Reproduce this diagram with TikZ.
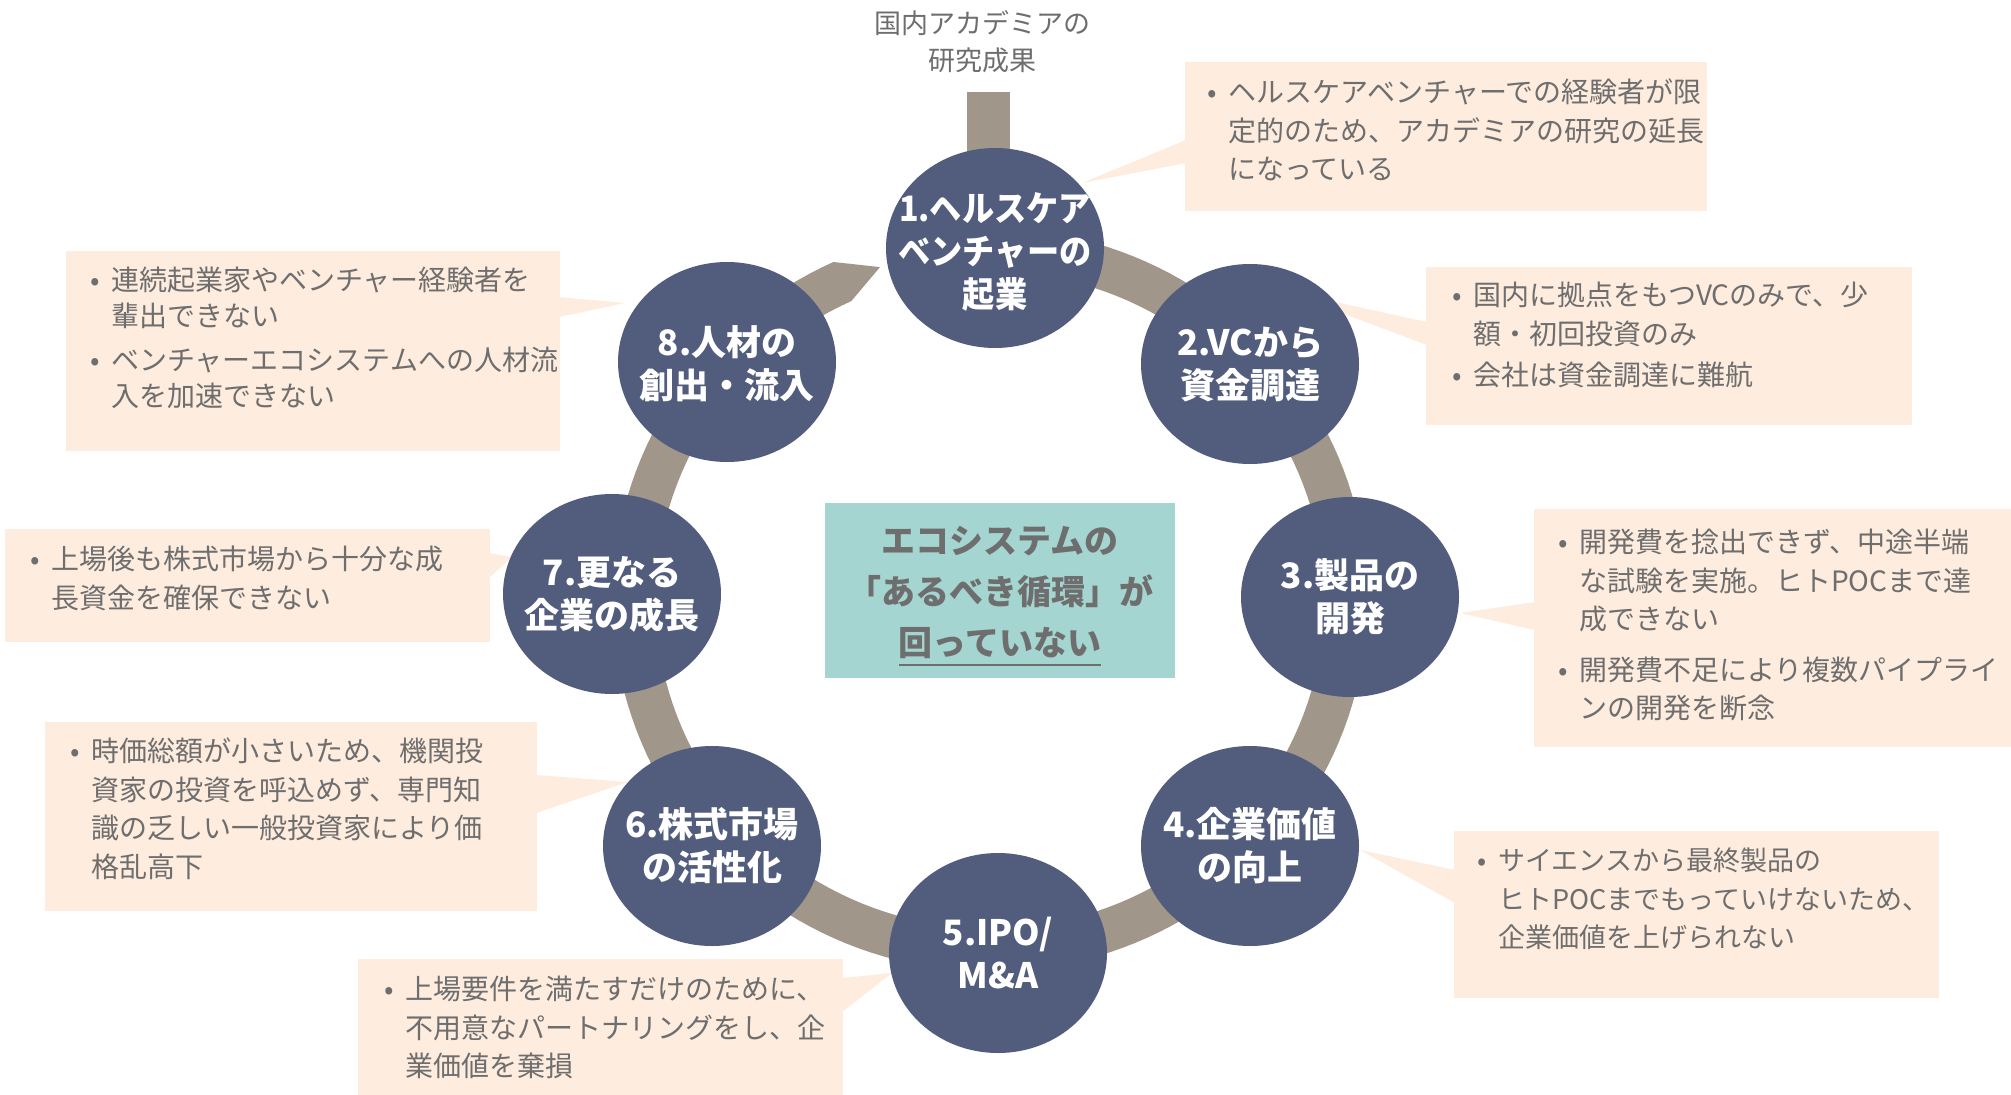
\documentclass[tikz,border=0pt]{standalone}
\usepackage{fontspec}
\setmainfont{Noto Sans CJK JP}
\newfontfamily\condfont[FakeStretch=0.92]{Noto Sans CJK JP}
\definecolor{ringc}{HTML}{A09689}
\definecolor{circc}{HTML}{525D7E}
\definecolor{callc}{HTML}{FEECDE}
\definecolor{boxc}{HTML}{A4D5D0}
\definecolor{textg}{HTML}{6E6E6E}
\newcommand\cbul{\makebox[21pt][l]{•}}
\newcommand\cind{\hspace*{21pt}}
\newcommand\myul[1]{\setbox0\hbox{#1}\rlap{\rule[-11pt]{\wd0}{2.5pt}}\box0}
\tikzset{
  callbox/.style={fill=callc, inner sep=0pt, anchor=north west},
  ptr/.style={fill=callc},
  ctext/.style={anchor=north west, inner sep=0pt, align=left, text=textg, font=\fontsize{28}{38.5}\selectfont},
  circtext/.style={inner sep=0pt, align=center, text=white, font=\bfseries\fontsize{35}{43}\selectfont},
  ringfill/.style={fill=ringc},
  blob/.style={fill=circc}
}
\begin{document}
\begin{tikzpicture}[x=1pt,y=-1pt]
\useasboundingbox (0,0) rectangle (2011,1095);
\fill[white] (0,0) rectangle (2011,1095);

% callout boxes
\node[callbox, minimum width=522, minimum height=149] (b1) at (1185,62) {};
\node[callbox, minimum width=486, minimum height=158] (b2) at (1426,267) {};
\node[callbox, minimum width=477, minimum height=238] (b3) at (1534,509) {};
\node[callbox, minimum width=485, minimum height=167] (b4) at (1454,831) {};
\node[callbox, minimum width=485, minimum height=136] (b5) at (358,959) {};
\node[callbox, minimum width=492, minimum height=189] (b6) at (45,722) {};
\node[callbox, minimum width=485, minimum height=113] (b7) at (5,529) {};
\node[callbox, minimum width=494, minimum height=200] (b8) at (66,251) {};

% pointers
\fill[ptr] (1186,140) -- (1082,183) -- (1186,163) -- cycle;
\fill[ptr] (1427,322) -- (1280,290) -- (1427,345) -- cycle;
\fill[ptr] (1535,602) -- (1460,613) -- (1535,630) -- cycle;
\fill[ptr] (1455,870) -- (1360,850) -- (1455,903) -- cycle;
\fill[ptr] (842,978) -- (892,973) -- (842,1012) -- cycle;
\fill[ptr] (536,775) -- (628,782) -- (536,813) -- cycle;
\fill[ptr] (489,553) -- (512,557) -- (489,578) -- cycle;
\fill[ptr] (559,297) -- (625,303) -- (559,317) -- cycle;

% ring with arrow end
\fill[ringfill] plot[domain=280:605.5, samples=160] ({990+377.5*cos(\x)},{600+371.5*sin(\x)})
  -- ({990+356*cos(612)},{600+350*sin(612)})
  -- plot[domain=605.5:280, samples=160] ({990+334.5*cos(\x)},{600+328.5*sin(\x)}) -- cycle;
% input stub
\fill[ringfill] (967,92) rectangle (1010,200);

% circles
\fill[blob] (995,248) ellipse [x radius=109, y radius=100];
\fill[blob] (1250,364) ellipse [x radius=109, y radius=100];
\fill[blob] (1350,597) ellipse [x radius=109, y radius=100];
\fill[blob] (1250,846) ellipse [x radius=109, y radius=100];
\fill[blob] (998,953) ellipse [x radius=109, y radius=100];
\fill[blob] (712,846) ellipse [x radius=109, y radius=100];
\fill[blob] (612,594) ellipse [x radius=109, y radius=100];
\fill[blob] (727,362) ellipse [x radius=109, y radius=100];

\node[circtext, font=\condfont\bfseries\fontsize{35}{43}\selectfont] (c1) at (995,252) {1.ヘルスケア\\ベンチャーの\\起業};
\node[circtext] (c2) at (1250,364) {2.VCから\\資金調達};
\node[circtext] (c3) at (1350,597) {3.製品の\\開発};
\node[circtext] (c4) at (1250,846) {4.企業価値\\の向上};
\node[circtext] (c5) at (998,953) {5.IPO/\\M\&A};
\node[circtext] (c6) at (712,846) {6.株式市場\\の活性化};
\node[circtext] (c7) at (612,594) {7.更なる\\企業の成長};
\node[circtext] (c8) at (727,364) {8.人材の\\創出・流入};

% centre box
\node[fill=boxc, minimum width=350, minimum height=175, inner sep=0pt] (ctr) at (1000,590) {};
\node[inner sep=0pt, align=center, text=textg, font=\bfseries\fontsize{34}{51}\selectfont] (ctrtext) at (1000,596)
  {エコシステムの\\「あるべき循環」が\\\myul{回っていない}};

% top label
\node[inner sep=0pt, align=center, text=textg, font=\fontsize{27}{37}\selectfont] (src) at (982,42)
  {国内アカデミアの\\研究成果};

% callout texts
\node[ctext] (t1) at (1207,79) {\cbul ヘルスケアベンチャーでの経験者が限\\\cind 定的のため、アカデミアの研究の延長\\\cind になっている};
\node[ctext] (t2) at (1452,282) {\cbul 国内に拠点をもつVCのみで、少\\\cind 額・初回投資のみ\\[3pt]\cbul 会社は資金調達に難航};
\node[ctext] (t3) at (1558,529) {\cbul 開発費を捻出できず、中途半端\\\cind な試験を実施。ヒトPOCまで達\\\cind 成できない\\[12pt]\cbul 開発費不足により複数パイプライ\\\cind ンの開発を断念};
\node[ctext, font=\fontsize{27}{38.5}\selectfont] (t4) at (1477,848) {\cbul サイエンスから最終製品の\\\cind ヒトPOCまでもっていけないため、\\\cind 企業価値を上げられない};
\node[ctext] (t5) at (384,976) {\cbul 上場要件を満たすだけのために、\\\cind 不用意なパートナリングをし、企\\\cind 業価値を棄損};
\node[ctext] (t6) at (70,738) {\cbul 時価総額が小さいため、機関投\\\cind 資家の投資を呼込めず、専門知\\\cind 識の乏しい一般投資家により価\\\cind 格乱高下};
\node[ctext] (t7) at (30,546) {\cbul 上場後も株式市場から十分な成\\\cind 長資金を確保できない};
\node[ctext, font=\fontsize{28}{36}\selectfont] (t8) at (90,267) {\cbul 連続起業家やベンチャー経験者を\\\cind 輩出できない\\[8pt]\cbul ベンチャーエコシステムへの人材流\\\cind 入を加速できない};
\end{tikzpicture}
\end{document}
